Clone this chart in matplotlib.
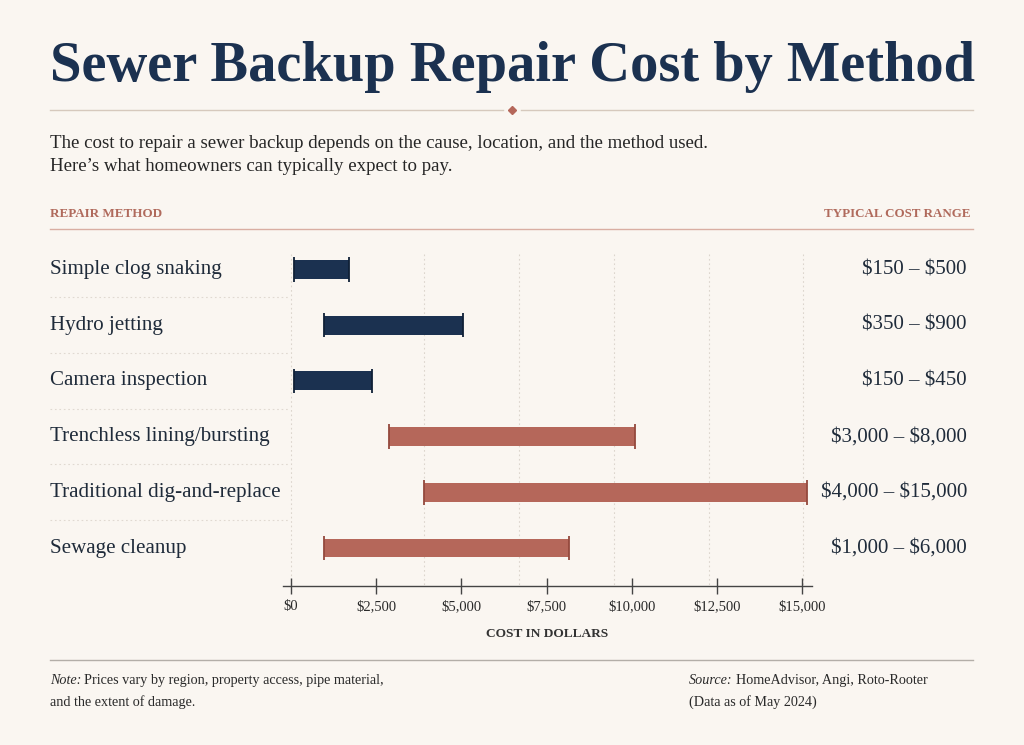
import numpy as np
import matplotlib
matplotlib.use("Agg")
import matplotlib.pyplot as plt
from matplotlib import transforms

# Données
methods = ["Simple clog snaking", "Hydro jetting", "Camera inspection",
           "Trenchless lining/bursting", "Traditional dig-and-replace", "Sewage cleanup"]
bar_start = [100, 975, 90, 2890, 3920, 980]
bar_end = [1700, 5050, 2380, 10100, 15150, 8160]
range_labels = ["$150 – $500", "$350 – $900", "$150 – $450",
                "$3,000 – $8,000", "$4,000 – $15,000", "$1,000 – $6,000"]
tier = ["minor", "minor", "minor", "major", "major", "major"]
xticks = [0, 2500, 5000, 7500, 10000, 12500, 15000]
xtick_labels = ["$0", "$2,500", "$5,000", "$7,500", "$10,000", "$12,500", "$15,000"]
grid_x = [0, 3910, 6695, 9480, 12265, 15020]

BG = "#FAF6F1"
NAVY = "#1B3150"
TERRA = "#B5675A"
TEXT = "#1F2B3A"
tier_colors = {"minor": NAVY, "major": TERRA}
cap_colors = {"minor": "#0F2036", "major": "#94493D"}

plt.rcParams['font.family'] = ['Liberation Serif', 'DejaVu Serif']
plt.rcParams['text.parse_math'] = False

W, H = 1024, 745
fig = plt.figure(figsize=(W / 100, H / 100), dpi=100, facecolor=BG)

def fx(px):
    return px / W

def fy(py):
    return 1 - py / H

# Titre, ajusté à la largeur
title = fig.text(fx(50), fy(81), "Sewer Backup Repair Cost by Method", fontsize=50,
                 fontweight='bold', color=NAVY, va='baseline', ha='left')
renderer = fig.canvas.get_renderer()
w = title.get_window_extent(renderer).width
title.set_fontsize(50 * 925 / w)

# Filet sous le titre avec losange
deco = fig.add_axes([0, 0, 1, 1], facecolor='none')
deco.set_xlim(0, W)
deco.set_ylim(H, 0)
deco.axis('off')
deco.plot([50, 503], [110, 110], color="#D6C9BD", lw=1)
deco.plot([521, 973], [110, 110], color="#D6C9BD", lw=1)
deco.plot([512], [110], marker='D', ms=4.5, color=TERRA)

fig.text(fx(50), fy(148), "The cost to repair a sewer backup depends on the cause, location, and the method used.",
         fontsize=13.6, color="#262626", va='baseline')
fig.text(fx(50), fy(171), "Here’s what homeowners can typically expect to pay.",
         fontsize=13.6, color="#262626", va='baseline')

fig.text(fx(50), fy(217), "REPAIR METHOD", fontsize=9.4, color="#B06A5C", va='baseline', fontweight='bold')
fig.text(fx(970), fy(217), "TYPICAL COST RANGE", fontsize=9.4, color="#B06A5C", va='baseline',
         ha='right', fontweight='bold')
deco.plot([50, 973], [229, 229], color="#D9AEA2", lw=1)

# Zone du graphique
ax_left, ax_right, ax_top, ax_bot = 283, 812, 245, 586
ax = fig.add_axes([fx(ax_left), fy(ax_bot), (ax_right - ax_left) / W, (ax_bot - ax_top) / H],
                  facecolor='none')
px_per_k = (802.3 - 290.7) / 15
ax.set_xlim(-(290.7 - ax_left) / px_per_k * 1000, 15000 + (ax_right - 802.3) / px_per_k * 1000)
row_gap = 55.7
y_top = -(269.5 - ax_top) / row_gap
y_bot = (ax_bot - 269.5) / row_gap
ax.set_ylim(y_bot, y_top)

rows = np.arange(len(methods))
ax.vlines(grid_x, -0.27, y_bot, colors="#DCD5CD", linestyles=(0, (1.5, 2.5)), lw=0.8, zorder=0)

for i in rows:
    c = tier_colors[tier[i]]
    ax.barh(i, bar_end[i] - bar_start[i], left=bar_start[i], height=0.34, color=c, zorder=2)
    ax.vlines([bar_start[i], bar_end[i]], i - 0.22, i + 0.22, colors=cap_colors[tier[i]], lw=1.3, zorder=3)

# Libellés à gauche et à droite
blend = transforms.blended_transform_factory(fig.transFigure, ax.transData)
for i in rows:
    ax.text(fx(50), i, methods[i], transform=blend, fontsize=15.1, color=TEXT,
            va='center', ha='left', clip_on=False)
    ax.text(fx(967), i, range_labels[i], transform=blend, fontsize=15.0, color=TEXT,
            va='center', ha='right', clip_on=False)

for y in rows[:-1] + 0.5:
    ax.plot([fx(50), fx(290)], [y, y], transform=blend, color="#E0D9D1",
            ls=(0, (1.5, 2.5)), lw=0.8, clip_on=False)

for s in ['top', 'right', 'left']:
    ax.spines[s].set_visible(False)
ax.spines['bottom'].set_color("#444444")
ax.spines['bottom'].set_linewidth(1)
ax.set_yticks([])
ax.set_xticks(xticks)
ax.set_xticklabels(xtick_labels)
ax.tick_params(axis='x', direction='inout', length=12, width=1, color="#444444",
               labelsize=10.5, labelcolor="#2A2A2A", pad=4)
ax.set_xlabel("COST IN DOLLARS", fontsize=9.6, color="#333333", fontweight='bold', labelpad=11)

# Pied de page
deco.plot([50, 973], [660, 660], color="#B3AEA8", lw=1)

def mixed(x, y, lead, rest):
    t = fig.text(fx(x), fy(y), lead, fontsize=10.2, style='italic', color="#2A2A2A", va='baseline')
    wl = t.get_window_extent(renderer).width
    fig.text(fx(x + wl + 3), fy(y), rest, fontsize=10.2, color="#2A2A2A", va='baseline')

mixed(50, 684, "Note:", "Prices vary by region, property access, pipe material,")
fig.text(fx(50), fy(706), "and the extent of damage.", fontsize=10.2, color="#2A2A2A", va='baseline')
mixed(689, 684, "Source:", "HomeAdvisor, Angi, Roto-Rooter")
fig.text(fx(689), fy(706), "(Data as of May 2024)", fontsize=10.2, color="#2A2A2A", va='baseline')

fig.savefig("out.png", dpi=100, facecolor=BG)
